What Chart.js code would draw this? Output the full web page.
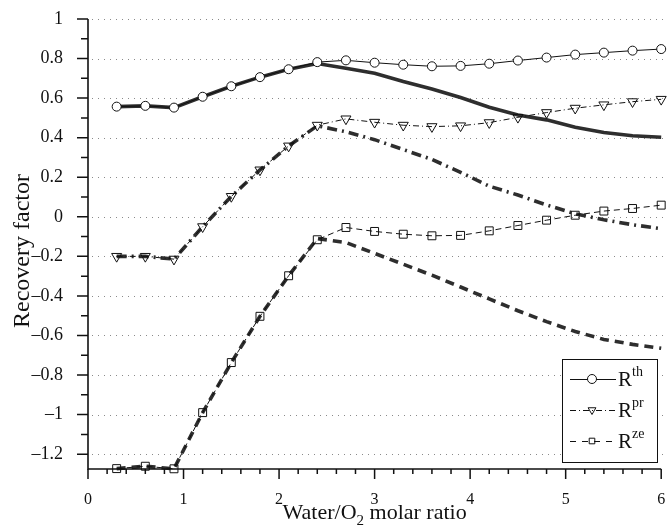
<!DOCTYPE html>
<html lang="en">
<head>
<meta charset="UTF-8">
<title>Recovery factor vs Water/O2 molar ratio</title>
<script src="https://cdn.jsdelivr.net/npm/chart.js@4.4.0/dist/chart.umd.min.js"></script>
<style>
  html, body { margin: 0; padding: 0; background: #fff; }
  #wrap { width: 668px; height: 527px; position: relative; }
</style>
</head>
<body>
<div id="wrap"><canvas id="recoveryChart"></canvas></div>
<script>
// water / O2 molar ratio (x) at each computed point
const ratio = [0.3, 0.6, 0.9, 1.2, 1.5, 1.8, 2.1, 2.4, 2.7, 3.0,
               3.3, 3.6, 3.9, 4.2, 4.5, 4.8, 5.1, 5.4, 5.7, 6.0];

// recovery factors with markers
const rTh = [0.557, 0.561, 0.552, 0.607, 0.660, 0.706, 0.746, 0.782, 0.791, 0.779,
             0.769, 0.761, 0.763, 0.774, 0.790, 0.805, 0.820, 0.830, 0.840, 0.848];
const rPr = [-0.200, -0.200, -0.214, -0.050, 0.103, 0.237, 0.358, 0.463, 0.495, 0.478,
             0.463, 0.456, 0.460, 0.476, 0.503, 0.527, 0.549, 0.566, 0.582, 0.594];
const rZe = [-1.273, -1.261, -1.274, -0.990, -0.737, -0.503, -0.298, -0.116, -0.054, -0.074,
             -0.088, -0.096, -0.094, -0.071, -0.044, -0.017, 0.008, 0.029, 0.042, 0.059];

// thick reference curves (no markers)
const rThRef = [0.557, 0.561, 0.552, 0.607, 0.660, 0.706, 0.746, 0.775, 0.751, 0.726,
                0.684, 0.646, 0.603, 0.554, 0.515, 0.490, 0.453, 0.426, 0.410, 0.402];
const rPrRef = [-0.200, -0.200, -0.214, -0.050, 0.103, 0.237, 0.358, 0.460, 0.430, 0.390,
                0.340, 0.290, 0.225, 0.155, 0.110, 0.060, 0.015, -0.015, -0.040, -0.060];
const rZeRef = [-1.273, -1.261, -1.274, -0.990, -0.737, -0.503, -0.298, -0.110, -0.130, -0.185,
                -0.240, -0.295, -0.355, -0.415, -0.475, -0.530, -0.580, -0.620, -0.645, -0.665];

const xTicks = [0, 1, 2, 3, 4, 5, 6];
const yTicks = [-1.2, -1, -0.8, -0.6, -0.4, -0.2, 0, 0.2, 0.4, 0.6, 0.8, 1];
const xMinor = [0.2, 0.4, 0.6, 0.8, 1.2, 1.4, 1.6, 1.8, 2.2, 2.4, 2.6, 2.8, 3.2, 3.4, 3.6, 3.8,
                4.2, 4.4, 4.6, 4.8, 5.2, 5.4, 5.6, 5.8];
const yMinor = [-1.1, -0.9, -0.7, -0.5, -0.3, -0.1, 0.1, 0.3, 0.5, 0.7, 0.9];

const legendItems = [
  { sup: 'th', dash: [], marker: 'circle' },
  { sup: 'pr', dash: [6, 3, 1, 3], marker: 'triangle' },
  { sup: 'ze', dash: [6, 6], marker: 'rect' }
];

const SERIF = '"Liberation Serif", "Times New Roman", serif';
const pts = ys => ratio.map((x, i) => ({ x: x, y: ys[i] }));

function drawMarker(ctx, type, x, y, r) {
  ctx.save();
  ctx.setLineDash([]);
  ctx.lineWidth = 1;
  ctx.strokeStyle = '#111';
  ctx.beginPath();
  if (type === 'circle') {
    ctx.fillStyle = '#fff';
    ctx.arc(x, y, r, 0, Math.PI * 2);
    ctx.fill();
  } else if (type === 'triangle') {
    ctx.moveTo(x - r * 0.87, y - r * 0.5);
    ctx.lineTo(x + r * 0.87, y - r * 0.5);
    ctx.lineTo(x, y + r);
    ctx.closePath();
  } else {
    ctx.rect(x - r * 0.7, y - r * 0.7, r * 1.4, r * 1.4);
  }
  ctx.stroke();
  ctx.restore();
}

// gridlines, axes with major/minor ticks, axis titles and the legend box
const framePlugin = {
  id: 'frame',
  beforeDatasetsDraw(chart) {
    const { ctx, chartArea: a, scales: { y } } = chart;
    ctx.save();
    ctx.strokeStyle = '#8a8a8a';
    ctx.lineWidth = 1;
    ctx.setLineDash([1, 5]);
    yTicks.forEach(v => {
      const py = Math.round(y.getPixelForValue(v)) + 0.5;
      ctx.beginPath();
      ctx.moveTo(a.left + 4, py);
      ctx.lineTo(chart.width, py);
      ctx.stroke();
    });
    ctx.restore();
  },
  afterDraw(chart) {
    const { ctx, chartArea: a, scales: { x, y } } = chart;
    ctx.save();
    ctx.strokeStyle = '#111';
    ctx.lineWidth = 1.6;
    ctx.beginPath();
    ctx.moveTo(a.left, a.top);
    ctx.lineTo(a.left, a.bottom);
    ctx.lineTo(a.right, a.bottom);
    ctx.stroke();

    ctx.lineWidth = 1.5;
    ctx.beginPath();
    yTicks.forEach(v => { const py = y.getPixelForValue(v); ctx.moveTo(a.left, py); ctx.lineTo(a.left - 11, py); });
    yMinor.forEach(v => { const py = y.getPixelForValue(v); ctx.moveTo(a.left, py); ctx.lineTo(a.left - 7, py); });
    xTicks.forEach(v => { const px = x.getPixelForValue(v); ctx.moveTo(px, a.bottom); ctx.lineTo(px, a.bottom + 10); });
    xMinor.forEach(v => { const px = x.getPixelForValue(v); ctx.moveTo(px, a.bottom); ctx.lineTo(px, a.bottom + 5); });
    ctx.stroke();

    // axis titles
    ctx.fillStyle = '#111';
    ctx.textBaseline = 'alphabetic';
    const part1 = 'Water/O', part2 = ' molar ratio';
    ctx.font = '22px ' + SERIF;
    const w1 = ctx.measureText(part1).width;
    const w3 = ctx.measureText(part2).width;
    ctx.font = '15px ' + SERIF;
    const w2 = ctx.measureText('2').width;
    const tx = (a.left + a.right) / 2 - (w1 + w2 + w3) / 2;
    const ty = 519;
    ctx.textAlign = 'left';
    ctx.font = '22px ' + SERIF;
    ctx.fillText(part1, tx, ty);
    ctx.font = '15px ' + SERIF;
    ctx.fillText('2', tx + w1, ty + 6);
    ctx.font = '22px ' + SERIF;
    ctx.fillText(part2, tx + w1 + w2, ty);

    ctx.save();
    ctx.translate(28.5, 251);
    ctx.rotate(-Math.PI / 2);
    ctx.font = '24px ' + SERIF;
    ctx.textAlign = 'center';
    ctx.fillText('Recovery factor', 0, 0);
    ctx.restore();

    // legend
    const bx = 562, by = 359, bw = 95, bh = 103;
    ctx.fillStyle = '#fff';
    ctx.fillRect(bx, by, bw, bh);
    ctx.lineWidth = 1;
    ctx.strokeStyle = '#111';
    ctx.strokeRect(bx + 0.5, by + 0.5, bw, bh);
    const rows = [379, 410, 441];
    legendItems.forEach((it, i) => {
      const ry = rows[i];
      ctx.save();
      ctx.lineWidth = 1;
      ctx.strokeStyle = '#111';
      ctx.setLineDash(it.dash);
      ctx.beginPath();
      ctx.moveTo(570, ry + 0.5);
      ctx.lineTo(616, ry + 0.5);
      ctx.stroke();
      ctx.restore();
      drawMarker(ctx, it.marker, 592, ry, it.marker === 'rect' ? 4 : 4.5);
      ctx.fillStyle = '#111';
      ctx.textAlign = 'left';
      ctx.font = '21px ' + SERIF;
      ctx.fillText('R', 618, ry + 7);
      const rw = ctx.measureText('R').width;
      ctx.font = '14px ' + SERIF;
      ctx.fillText(it.sup, 618 + rw, ry - 3);
    });
    ctx.restore();
  }
};

const thin = { borderColor: '#111', borderWidth: 1, tension: 0, clip: false,
               pointBorderColor: '#111', pointBorderWidth: 1, pointBackgroundColor: 'rgba(0,0,0,0)' };
const thick = { borderColor: '#2e2e2e', borderWidth: 3.6, tension: 0, clip: false,
                pointRadius: 0, borderCapStyle: 'butt' };

new Chart(document.getElementById('recoveryChart'), {
  type: 'line',
  data: {
    datasets: [
      Object.assign({}, thin, { label: 'Rth', data: pts(rTh), pointStyle: 'circle', pointRadius: 4.5,
                                pointBackgroundColor: '#fff' }),
      Object.assign({}, thin, { label: 'Rpr', data: pts(rPr), borderDash: [6, 3, 1, 3],
                                pointStyle: 'triangle', pointRotation: 180, pointRadius: 5.8 }),
      Object.assign({}, thin, { label: 'Rze', data: pts(rZe), borderDash: [6, 4],
                                pointStyle: 'rect', pointRadius: 5.6 }),
      Object.assign({}, thick, { label: 'th ref', data: pts(rThRef) }),
      Object.assign({}, thick, { label: 'pr ref', data: pts(rPrRef), borderDash: [10, 5, 2, 5] }),
      Object.assign({}, thick, { label: 'ze ref', data: pts(rZeRef), borderDash: [9, 6] })
    ]
  },
  options: {
    responsive: true,
    maintainAspectRatio: false,
    animation: false,
    devicePixelRatio: 1,
    layout: { padding: { top: 19, right: 3, left: 0, bottom: 0 } },
    plugins: { legend: { display: false }, tooltip: { enabled: false } },
    scales: {
      x: {
        type: 'linear', min: 0, max: 6,
        grid: { display: false }, border: { display: false },
        afterBuildTicks: s => { s.ticks = xTicks.map(v => ({ value: v })); },
        afterFit: s => { s.height = 58; s.paddingLeft = 0; s.paddingRight = 0; },
        ticks: { font: { family: SERIF, size: 16 }, color: '#111', padding: 13, maxRotation: 0,
                 callback: v => String(v) }
      },
      y: {
        type: 'linear', min: -1.275, max: 1,
        grid: { display: false }, border: { display: false },
        afterBuildTicks: s => { s.ticks = yTicks.map(v => ({ value: v })); },
        afterFit: s => { s.width = 88; s.paddingTop = 0; s.paddingBottom = 0; },
        ticks: { font: { family: SERIF, size: 18 }, color: '#111', padding: 17,
                 callback: v => String(Math.round(v * 10) / 10).replace('-', '\u2013') }
      }
    }
  },
  plugins: [framePlugin]
});
</script>
</body>
</html>
